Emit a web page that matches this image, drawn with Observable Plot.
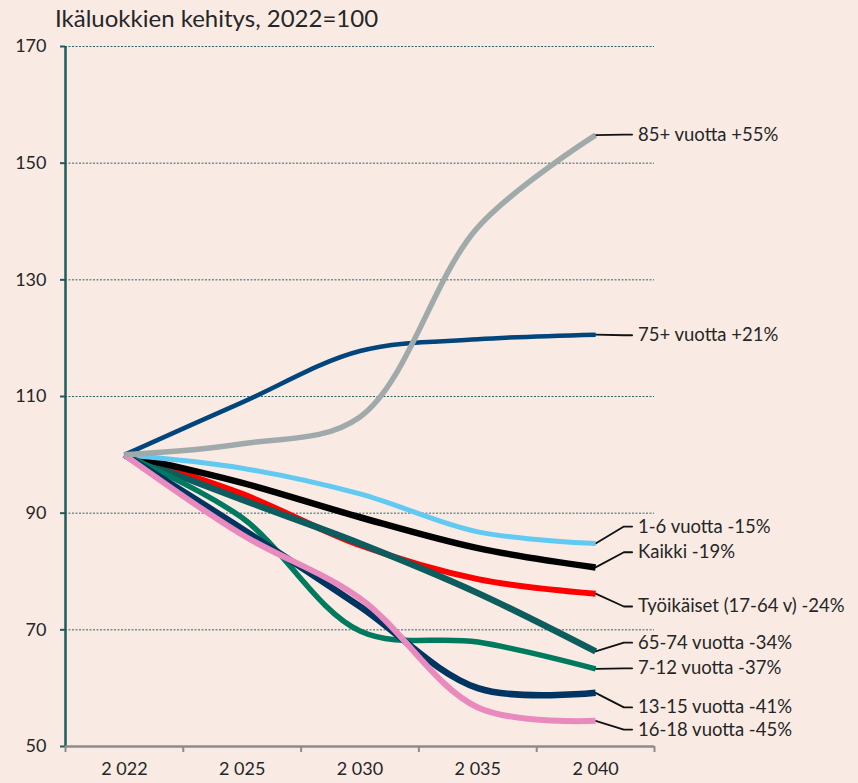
<!DOCTYPE html>
<html><head><meta charset="utf-8">
<script src="https://cdn.jsdelivr.net/npm/d3@7"></script>
<script src="https://cdn.jsdelivr.net/npm/@observablehq/plot@0.6"></script>
<style>
html,body{margin:0;padding:0;background:#F9EBE4;}
#title{height:36px;box-sizing:border-box;padding:6px 0 0 55px;font-family:Lato,sans-serif;font-size:24px;line-height:24px;color:#262626;}
</style></head><body>
<div id="title">Ikäluokkien kehitys, 2022=100</div>
<div id="chart"></div>
<script>
// ---- data ----
const years = ["2 022", "2 025", "2 030", "2 035", "2 040"];
const yTicks = [50, 70, 90, 110, 130, 150, 170];

const seriesNames = ["75+", "Työikäiset", "65-74", "Kaikki", "1-6", "7-12", "13-15", "16-18", "85+"];
const v75plus   = [100, 109.0, 117.8, 119.8, 120.6];
const vTyoikais = [100, 93.3, 84.5, 78.7, 76.2];
const v65_74    = [100, 92.3, 84.8, 76.3, 66.3];
const vKaikki   = [100, 95.2, 89.3, 84.0, 80.7];
const v1_6      = [100, 97.7, 93.3, 86.8, 84.8];
const v7_12     = [100, 89.2, 69.8, 67.9, 63.3];
const v13_15    = [100, 87.3, 74.0, 60.0, 59.2];
const v16_18    = [100, 86.3, 75.4, 56.7, 54.4];
const v85plus   = [100, 101.9, 106.5, 139.0, 154.8];
const seriesValues = [v75plus, vTyoikais, v65_74, vKaikki, v1_6, v7_12, v13_15, v16_18, v85plus];

const labelTexts = ["75+ vuotta +21%", "Työikäiset (17-64 v) -24%", "65-74 vuotta -34%", "Kaikki -19%",
  "1-6 vuotta -15%", "7-12 vuotta -37%", "13-15 vuotta -41%", "16-18 vuotta -45%", "85+ vuotta +55%"];
// label anchor levels (in index units)
const labelAt = [120.5, 74.0, 67.8, 83.3, 87.7, 63.4, 56.7, 52.9, 154.9];

// ---- styles ----
const colors = ["#00457C", "#FF0000", "#0D5C5E", "#000000", "#62C9F2", "#007A5E", "#003562", "#E98ABE", "#A0AAAA"];
const widths = [4.5, 6, 6.5, 6.5, 5, 5.5, 6.5, 6, 5.5];

// ---- build ----
const lastI = years.length - 1;
const xDomain = [-0.5, years.length - 0.5];
const centers = d3.range(years.length);
const bounds = d3.range(years.length + 1).map(i => i - 0.5);
const elbow = 0.24, leadEnd = 0.31, textX = 0.36;

const lineMarks = seriesNames.map((s, k) =>
  Plot.line(seriesValues[k].map((v, i) => ({i, v})), {
    x: "i", y: "v", stroke: colors[k], strokeWidth: widths[k], curve: "catmull-rom",
    strokeLinecap: "butt", strokeLinejoin: "round"
  })
);

const leaders = [];
seriesNames.forEach((s, k) => {
  const end = seriesValues[k][lastI];
  leaders.push({s, x: lastI, y: end}, {s, x: lastI + elbow, y: labelAt[k]}, {s, x: lastI + leadEnd, y: labelAt[k]});
});
const labelRows = seriesNames.map((s, k) => ({x: lastI + textX, y: labelAt[k], t: labelTexts[k]}));

const chart = Plot.plot({
  width: 858, height: 747,
  marginTop: 10, marginBottom: 37, marginLeft: 65, marginRight: 204,
  style: {background: "transparent", fontFamily: "Lato, sans-serif", fontSize: "18px", color: "#262626", overflow: "visible"},
  x: {type: "linear", domain: xDomain, label: null},
  y: {domain: [yTicks[0], yTicks[yTicks.length - 1]], label: null},
  marks: [
    Plot.ruleY(yTicks.filter(d => d > yTicks[0]), {stroke: "#2E6468", strokeWidth: 1, strokeDasharray: "2,1.5"}),
    Plot.axisY({ticks: yTicks, tickSize: 5, tickPadding: 14, stroke: "#1B5E60", strokeWidth: 2, fill: "#262626", fontSize: 18, label: null}),
    Plot.ruleX([xDomain[0]], {stroke: "#1B5E60", strokeWidth: 2.5}),
    Plot.axisX({ticks: bounds, tickSize: 6, tickFormat: () => "", stroke: "#8C8C8C", strokeWidth: 2, label: null}),
    Plot.axisX({ticks: centers, tickSize: 0, tickPadding: 16, tickFormat: i => years[i], fill: "#262626", fontSize: 18, label: null}),
    Plot.ruleY([yTicks[0]], {stroke: "#8C8C8C", strokeWidth: 2.5}),
    Plot.line(leaders, {x: "x", y: "y", z: "s", stroke: "#111", strokeWidth: 1.8, curve: "linear"}),
    ...lineMarks,
    Plot.text(labelRows, {x: "x", y: "y", text: "t", textAnchor: "start", fontSize: 18.5, fill: "#262626"})
  ]
});
document.getElementById("chart").appendChild(chart);
</script>
</body></html>
